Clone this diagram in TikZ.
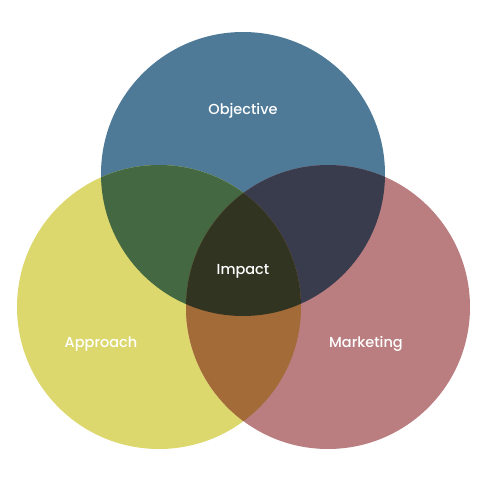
\documentclass[tikz,border=0pt]{standalone}
\usepackage{fontspec}
\setmainfont{Poppins}[UprightFont={* Medium}]
\definecolor{cobj}{RGB}{78,122,152}
\definecolor{capp}{RGB}{220,216,110}
\definecolor{cmkt}{RGB}{186,126,129}
\definecolor{cobjapp}{RGB}{68,104,66}
\definecolor{cobjmkt}{RGB}{57,60,77}
\definecolor{cappmkt}{RGB}{162,107,56}
\definecolor{call}{RGB}{50,52,34}
\tikzset{lbl/.style={text=white, font=\fontsize{14.5}{18}\selectfont, inner sep=0pt, anchor=base}}
\begin{document}
\begin{tikzpicture}[x=1pt,y=-1pt]
\useasboundingbox (0,0) rectangle (485,485);
\coordinate (O) at (243,174);
\coordinate (A) at (159,307);
\coordinate (M) at (328,307);
\def\R{142}
\fill[cobj] (O) circle (\R);
\fill[capp] (A) circle (\R);
\fill[cmkt] (M) circle (\R);
\begin{scope}
  \clip (O) circle (\R);
  \fill[cobjapp] (A) circle (\R);
  \fill[cobjmkt] (M) circle (\R);
\end{scope}
\begin{scope}
  \clip (A) circle (\R);
  \fill[cappmkt] (M) circle (\R);
\end{scope}
\begin{scope}
  \clip (A) circle (\R);
  \clip (M) circle (\R);
  \fill[call] (O) circle (\R);
\end{scope}
\node[lbl] (obj) at (243,114) {Objective};
\node[lbl] (imp) at (243,274) {Impact};
\node[lbl] (app) at (101,347) {Approach};
\node[lbl] (mkt) at (366,347) {Marketing};
\end{tikzpicture}
\end{document}
